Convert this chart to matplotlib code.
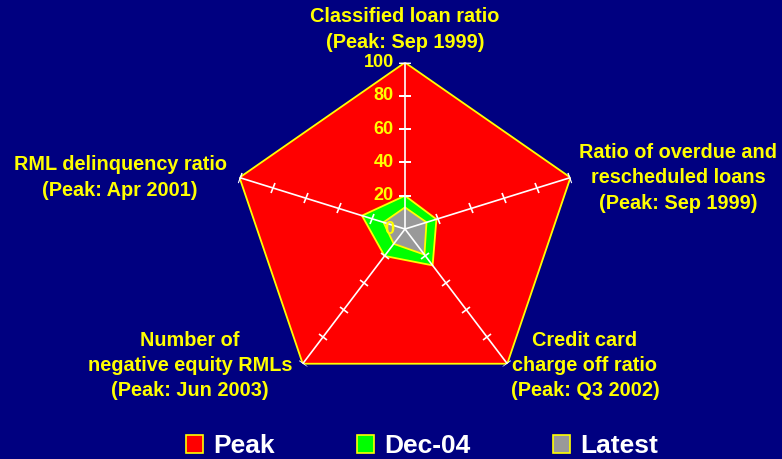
import numpy as np
import matplotlib.pyplot as plt
from matplotlib.patches import Patch
from matplotlib.markers import MarkerStyle
from matplotlib.transforms import Affine2D

# Данные
categories = [
    ["Classified loan ratio", "(Peak: Sep 1999)"],
    ["Ratio of overdue and", "rescheduled loans", "(Peak: Sep 1999)"],
    ["Credit card", "charge off ratio", "(Peak: Q3 2002)"],
    ["Number of", "negative equity RMLs", "(Peak: Jun 2003)"],
    ["RML delinquency ratio", "(Peak: Apr 2001)"],
]
peak = [100, 100, 100, 100, 100]
dec04 = [20, 19, 27, 20, 26]
latest = [13, 13, 19, 11, 13]
series_names = ["Peak", "Dec-04", "Latest"]
r_ticks = [0, 20, 40, 60, 80, 100]

NAVY = '#000080'
YELLOW = '#FFFF00'
colors = ['#FF0000', '#00FF00', '#999999']

plt.rcParams['font.family'] = ['Liberation Sans', 'DejaVu Sans']
plt.rcParams['font.weight'] = 'bold'

fig = plt.figure(figsize=(7.82, 4.59), dpi=100, facecolor=NAVY)
ax = fig.add_axes([0.2954, 0.1383, 0.445, 0.7255], projection='polar')
ax.set_aspect('auto')
ax.set_facecolor('none')
ax.set_theta_zero_location('N')
ax.set_theta_direction(-1)

n = len(categories)
angles = np.linspace(0, 2 * np.pi, n, endpoint=False)
closed = np.append(angles, angles[0])

for vals, col in zip([peak, dec04, latest], colors):
    v = np.append(vals, vals[0])
    ax.fill(closed, v, facecolor=col, edgecolor=YELLOW, linewidth=1.3, zorder=2)

# Оси-спицы с засечками
for ang in angles:
    ax.plot([ang, ang], [0, 100], color='white', linewidth=1.2, zorder=3)
    mk = MarkerStyle('_', transform=Affine2D().rotate_deg(-np.degrees(ang)))
    ax.plot([ang] * 5, r_ticks[1:], linestyle='none', marker=mk,
            markersize=8, markeredgewidth=1.2, color='white', zorder=4)

for r in r_ticks:
    ax.annotate(str(r), xy=(0, r), xytext=(-8, 0), textcoords='offset points',
                ha='right', va='center', color=YELLOW, fontsize=13,
                fontweight='bold', zorder=5, annotation_clip=False)

ax.set_ylim(0, 100)
ax.grid(False)
ax.set_xticks([])
ax.set_yticks([])
ax.spines['polar'].set_visible(False)

# Подписи осей: центр по x и y первой строки (в пикселях)
label_x = [405, 678, 585, 190, 120]
label_y = [17, 152, 340, 340, 165]
for lines, px, y0 in zip(categories, label_x, label_y):
    for i, line in enumerate(lines):
        fig.text(px / 782, 1 - (y0 + 25.5 * i) / 459, line, ha='center', va='center',
                 color=YELLOW, fontsize=14.3, fontweight='bold')

handles = [Patch(facecolor=c, edgecolor=YELLOW, linewidth=1.2) for c in colors]
fig.legend(handles, series_names, loc='center', bbox_to_anchor=(422 / 782, 1 - 446 / 459),
           ncol=3, frameon=False, labelcolor='white',
           handlelength=0.65, handleheight=0.65, handletextpad=0.4,
           columnspacing=3.1, borderpad=0, borderaxespad=0,
           prop={'weight': 'bold', 'size': 19})

fig.savefig('out.png', dpi=100, facecolor=NAVY)
